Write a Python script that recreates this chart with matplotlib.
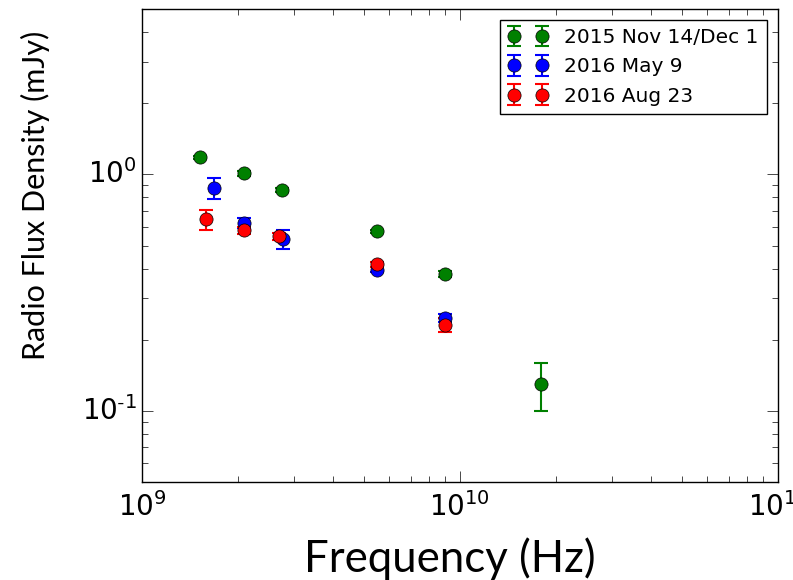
import matplotlib as mpl
mpl.use('Agg')
import matplotlib.pyplot as plt
import numpy as np
from matplotlib.ticker import FuncFormatter

# frequencies in Hz, flux densities in mJy
freq_2015 = [1.52e9, 2.1e9, 2.75e9, 5.5e9, 9.0e9, 18.0e9]
flux_2015 = [1.18, 1.01, 0.86, 0.575, 0.38, 0.13]
err_2015 = [0.02, 0.02, 0.02, 0.01, 0.01, 0.03]

freq_may = [1.68e9, 2.1e9, 2.78e9, 5.5e9, 9.0e9]
flux_may = [0.88, 0.625, 0.535, 0.395, 0.247]
err_may = [0.09, 0.03, 0.05, 0.01, 0.01]

freq_aug = [1.59e9, 2.1e9, 2.70e9, 5.5e9, 9.0e9]
flux_aug = [0.645, 0.58, 0.547, 0.417, 0.231]
err_aug = [0.06, 0.02, 0.02, 0.01, 0.015]

labels = ["2015 Nov 14/Dec 1", "2016 May 9", "2016 Aug 23"]
colors = ["green", "b", "r"]


def pow10(v, pos):
    e = int(round(np.log10(v)))
    s = str(e).replace('-', r'\text{-}')
    return r'$\mathdefault{10^{%s}}$' % s


plt.style.use('classic')
plt.rcParams['axes.unicode_minus'] = False
fig = plt.figure(figsize=(7.93, 5.8), dpi=100, facecolor='white')
ax = fig.add_axes([0.179, 0.169, 0.802, 0.815])

series = [(freq_2015, flux_2015, err_2015), (freq_may, flux_may, err_may),
          (freq_aug, flux_aug, err_aug)]
for (x, y, e), lab, c in zip(series, labels, colors):
    ax.errorbar(x, y, yerr=e, fmt='o', color=c, ecolor=c, mec='k',
                ms=9.5, capsize=5, elinewidth=1.5, capthick=1.5, label=lab)

ax.set_xscale('log')
ax.set_yscale('log')
ax.set_xlim(1e9, 1e11)
ax.set_ylim(0.05, 5)
ax.xaxis.set_major_formatter(FuncFormatter(pow10))
ax.yaxis.set_major_formatter(FuncFormatter(pow10))
ax.tick_params(which='major', length=8, labelsize=20)
ax.tick_params(which='minor', length=4)
ax.tick_params(axis='x', pad=7)
ax.set_xlabel("Frequency (Hz)", fontsize=31.5, family='Lato', labelpad=11)
ax.xaxis.label.set_x(0.484)
ax.set_ylabel("Radio Flux Density (mJy)", fontsize=22, family='Lato')
ax.yaxis.set_label_coords(-0.145, 0.607)
ax.legend(loc='upper right', numpoints=2, fontsize=14.5, borderaxespad=0.55)

fig.savefig('out.png', dpi=100, facecolor='white')
